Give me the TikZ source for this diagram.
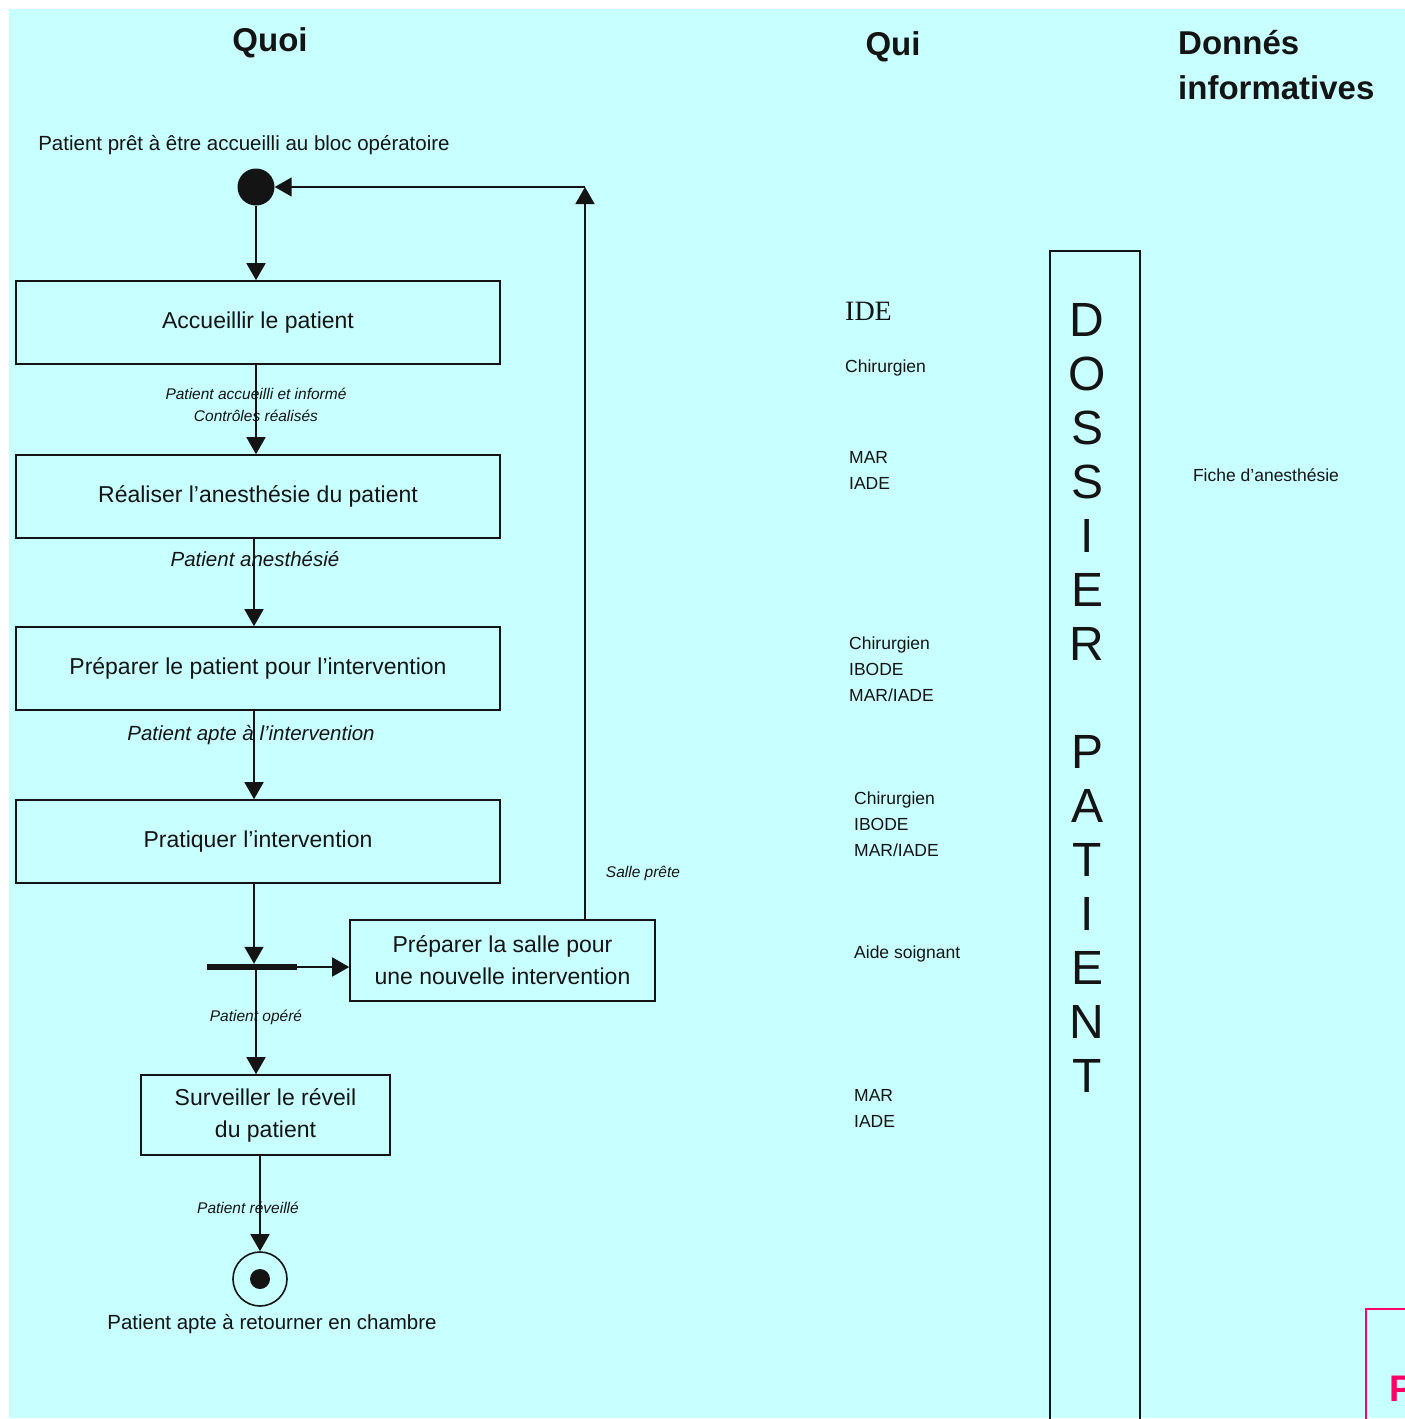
\documentclass[tikz,border=0pt]{standalone}
\usepackage{fontspec}
\setmainfont{Liberation Sans}
\newfontfamily\idefont{Liberation Serif}
\usetikzlibrary{arrows.meta}
\definecolor{bgcyan}{RGB}{200,255,255}
\definecolor{pinkc}{RGB}{255,0,102}
\definecolor{ink}{RGB}{20,20,20}
\tikzset{
  actbox/.style={draw=ink, line width=1.6pt, inner sep=0pt, align=center, text=ink,
    font=\fontsize{23}{32}\selectfont},
  arr/.style={draw=ink, line width=1.6pt, -{Triangle[width=19pt,length=17pt]}},
  flowlbl/.style={text=ink, inner sep=0pt, align=center, font=\fontsize{15.5}{22}\selectfont\itshape},
  biglbl/.style={text=ink, inner sep=0pt, align=center, font=\fontsize{20.5}{24}\selectfont\itshape},
  statelbl/.style={text=ink, inner sep=0pt, font=\fontsize{20.5}{24}\selectfont},
  head/.style={text=ink, inner sep=0pt, font=\fontsize{33}{45}\selectfont\bfseries},
  whotxt/.style={text=ink, inner sep=0pt, anchor=north west, align=left, font=\fontsize{17.5}{26}\selectfont},
}
\begin{document}
\begin{tikzpicture}[x=1pt,y=-1pt]
\useasboundingbox (0,0) rectangle (1405,1419);
\fill[white] (0,0) rectangle (1405,1419);
\fill[bgcyan] (9,9) rectangle (1405,1418);

% headings
\node[head] (hquoi) at (270,43) {Quoi};
\node[head] (hqui) at (893,47) {Qui};
\node[head, anchor=north west, align=left] (hdon) at (1178,30) {Donnés\\informatives};

% initial state
\node[statelbl] (startlbl) at (244,145) {Patient prêt à être accueilli au bloc opératoire};
\node[circle, fill=ink, minimum size=37pt, inner sep=0pt] (start) at (256,187) {};

% activities
\node[actbox, minimum width=484pt, minimum height=83pt] (b1) at (258,322.5) {Accueillir le patient};
\node[actbox, minimum width=484pt, minimum height=83pt] (b2) at (258,496.5) {Réaliser l'anesthésie du patient};
\node[actbox, minimum width=484pt, minimum height=83pt] (b3) at (258,668.5) {Préparer le patient pour l'intervention};
\node[actbox, minimum width=484pt, minimum height=83pt] (b4) at (258,841.5) {Pratiquer l'intervention};
\node[actbox, minimum width=305pt, minimum height=81pt] (b5) at (502.5,960.5) {Préparer la salle pour\\une nouvelle intervention};
\node[actbox, minimum width=249pt, minimum height=80pt] (b6) at (265.5,1115) {Surveiller le réveil\\du patient};

% fork bar
\node[fill=ink, minimum width=90pt, minimum height=6pt, inner sep=0pt] (bar) at (252,967) {};

% final state
\node[circle, draw=ink, line width=1.6pt, minimum size=54pt, inner sep=0pt] (end) at (260,1279) {};
\node[circle, fill=ink, minimum size=20pt, inner sep=0pt] (endin) at (end.center) {};
\node[statelbl] (endlbl) at (272,1324) {Patient apte à retourner en chambre};

% connectors
\coordinate (corner) at (585,187);
\draw[arr] (start.south) -- (start.south |- b1.north);
\draw[arr] (b1.south -| start) -- (b2.north -| start);
\draw[arr] ([xshift=-2pt]b2.south -| start) -- ([xshift=-2pt]b3.north -| start);
\draw[arr] ([xshift=-2pt]b3.south -| start) -- ([xshift=-2pt]b4.north -| start);
\draw[arr] ([xshift=-2pt]b4.south -| start) -- ([xshift=-2pt]bar.north -| start);
\draw[arr] (bar.east) -- (bar.east -| b5.west);
\draw[arr] (bar.south -| start) -- (b6.north -| start);
\draw[arr] (end.north |- b6.south) -- (end.north);
\draw[arr] (b5.north -| corner) -- (corner);
\draw[arr] (corner) -- (start.east);

% flow labels
\node[flowlbl] (l1) at (256,405) {Patient accueilli et informé\\Contrôles réalisés};
\node[biglbl] (l2) at (255,559) {Patient anesthésié};
\node[biglbl] (l3) at (251,735) {Patient apte à l'intervention};
\node[flowlbl] (l4) at (256,1017) {Patient opéré};
\node[flowlbl] (l5) at (248,1208) {Patient réveillé};
\node[flowlbl] (l6) at (643,873) {Salle prête};

% who column
\node[text=ink, inner sep=0pt, anchor=west, font=\fontsize{28}{30}\selectfont\idefont] (ide) at (845,311) {IDE};
\node[whotxt] (w1) at (845,360) {Chirurgien};
\node[whotxt] (w2) at (849,451) {MAR\\IADE};
\node[whotxt] (w3) at (849,637) {Chirurgien\\IBODE\\MAR/IADE};
\node[whotxt] (w4) at (854,792) {Chirurgien\\IBODE\\MAR/IADE};
\node[whotxt] (w5) at (854,946) {Aide soignant};
\node[whotxt] (w6) at (854,1089) {MAR\\IADE};

% dossier patient
\draw[ink, line width=1.6pt] (1050,1440) -- (1050,251) -- (1140,251) -- (1140,1440);
\node[text=ink, inner sep=0pt, anchor=north, align=center, font=\fontsize{48}{54}\selectfont] (dossier) at (1087,303)
  {D\\O\\S\\S\\I\\E\\R\\[54pt]P\\A\\T\\I\\E\\N\\T};

% informative data
\node[text=ink, inner sep=0pt, font=\fontsize{17.5}{20}\selectfont] (fiche) at (1266,475) {Fiche d'anesthésie};

% pink box fragment
\draw[pinkc, line width=2pt] (1366,1460) -- (1366,1309) -- (1460,1309);
\node[text=pinkc, inner sep=0pt, anchor=west, font=\fontsize{37}{40}\selectfont\bfseries] (pinkp) at (1389,1389) {P};
\end{tikzpicture}
\end{document}
